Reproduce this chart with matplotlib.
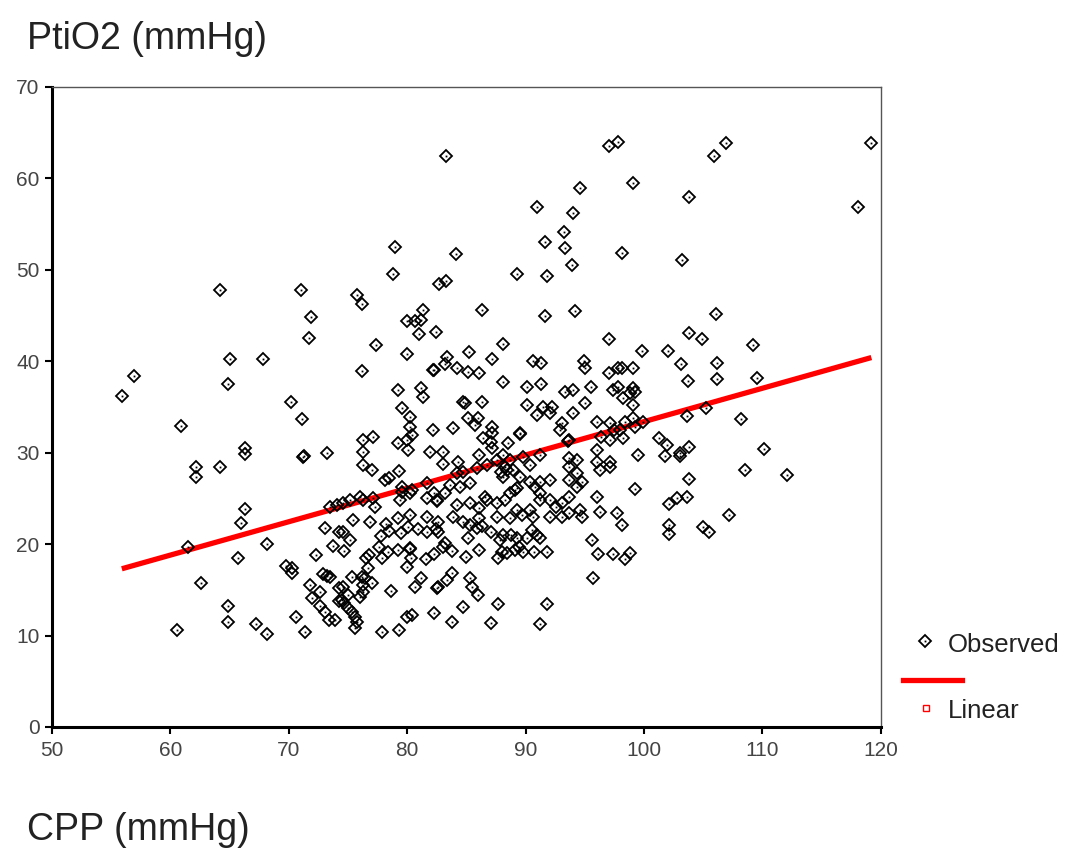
import numpy as np
import matplotlib
matplotlib.use("Agg")
import matplotlib.pyplot as plt
from matplotlib.lines import Line2D

# CPP (x) and PtiO2 (y)
cpp = [
    55.9, 56.9, 60.9, 60.6, 61.5, 62.2, 62.2, 62.6, 64.2, 64.2, 65.0, 64.9, 64.9, 64.9, 65.7, 66.0, 66.3, 66.3, 66.3, 67.8, 67.2, 68.2, 68.2, 69.8,
    70.2, 71.1, 71.0, 71.9, 71.7, 71.3, 71.2, 73.2, 70.3, 70.3, 70.6, 71.4, 72.3, 72.9, 73.2, 71.8, 72.6, 72.0, 72.6, 73.1, 73.4, 73.9, 73.1, 73.7,
    74.2, 74.2, 74.2, 74.6, 75.2, 74.7, 73.5, 74.6, 75.0, 74.5, 74.7, 75.0, 75.3, 75.6, 75.8, 75.6, 73.5, 74.1, 74.6,
    75.8, 76.2, 77.4, 76.2, 75.3, 76.2, 76.4, 76.7, 77.0, 76.3, 76.0, 76.3, 77.6, 76.5, 76.8, 77.9, 78.4, 79.2, 78.5, 79.5, 78.6, 77.9, 79.3,
    79.0, 78.8, 79.2, 79.6, 76.3, 77.1, 76.3, 76.3, 77.0, 78.1, 78.5, 79.2, 79.3, 75.2, 76.0, 76.3, 77.1, 77.3, 76.9, 79.4, 79.6, 79.6, 79.2,
    78.2, 75.4, 77.8,
    80.2, 80.2, 80.3, 80.0, 80.1, 80.9, 81.7, 82.4, 82.6, 81.6, 82.3, 83.0, 83.2, 83.8, 80.0, 80.4, 81.2, 80.7, 83.8, 83.4, 82.6, 82.5, 82.3,
    83.8, 84.7, 83.3, 84.1, 82.7, 83.3, 81.3, 80.0, 80.7, 81.2, 81.0, 82.4, 80.0, 82.3, 82.2, 83.2, 83.4, 84.2, 81.2, 81.3, 84.7, 80.2, 80.2,
    80.4, 80.0, 80.1, 82.2, 83.9, 81.9, 83.0, 83.0, 84.3, 84.2, 84.7, 83.6, 84.5, 81.7, 80.4, 80.2, 81.7, 82.5, 82.5, 82.3, 83.2, 84.2, 80.2,
    81.7, 82.6, 83.9, 84.7, 84.9,
    85.1, 85.0, 86.1, 85.3, 85.9, 86.3, 87.1, 87.8, 88.1, 88.8, 89.3, 87.7, 88.0, 88.4, 89.1, 89.4, 89.8, 87.7, 87.1, 85.3, 85.5, 86.0, 89.3,
    86.3, 85.2, 88.1, 87.2, 85.1, 86.1, 88.1, 86.3, 85.1, 86.0, 85.7, 87.2, 87.2, 86.4, 87.1, 86.1, 87.2, 88.1, 88.5, 89.5, 89.5, 88.7, 88.3,
    87.9, 88.1, 88.4, 88.9, 89.8, 89.5, 89.3, 85.9, 86.7, 87.6, 85.3, 85.3, 86.6, 86.7, 86.1, 87.6, 88.3, 88.7, 89.1, 89.3, 86.1, 87.6, 88.7,
    89.7,
    90.1, 90.5, 91.0, 91.2, 90.7, 91.8, 91.8, 91.2, 91.8, 93.9, 91.6, 94.2, 90.6, 91.3, 94.9, 95.0, 90.1, 91.3, 93.3, 94.0, 94.6, 91.0, 94.0,
    93.2, 91.6, 93.3, 90.1, 91.5, 92.2, 91.0, 92.1, 93.1, 94.0, 92.9, 95.0, 93.7, 93.6, 93.7, 94.3, 93.7, 94.3, 93.7, 94.3, 94.8, 93.7, 93.1,
    93.7, 94.6, 93.1, 94.8, 90.4, 91.2, 90.4, 90.8, 91.2, 92.1, 91.2, 90.4, 90.6, 91.2, 92.1, 92.6, 92.1, 95.5,
    95.6, 96.1, 97.4, 95.7, 97.0, 97.8, 98.1, 99.1, 97.0, 97.0, 97.8, 97.8, 99.8, 98.1, 99.1, 99.1, 99.2, 98.2, 98.8, 99.1, 97.1, 98.0, 98.4,
    99.1, 99.2, 99.9, 98.2, 97.1, 97.5, 96.4, 96.0, 96.0, 96.0, 96.3, 97.1, 97.1, 99.5, 99.2, 96.0, 96.3, 97.7, 98.1, 98.4, 98.8, 97.4,
    106.9, 105.9, 119.2, 103.8, 118.1, 103.2, 106.1, 103.8, 104.9, 109.2, 102.0, 103.1, 106.2, 103.7, 106.2, 109.5, 103.6, 105.2, 108.2,
    101.3, 101.9, 101.8, 103.0, 103.0, 103.8, 110.1, 108.5, 112.1, 103.8, 102.1, 102.8, 103.6, 107.2, 102.1, 102.1, 105.0, 105.5,
]
ptio2 = [
    36.2, 38.4, 32.9, 10.6, 19.7, 28.4, 27.3, 15.7, 47.8, 28.4, 40.2, 37.5, 13.2, 11.5, 18.5, 22.3, 23.8, 30.5, 29.9, 40.3, 11.3, 20.0, 10.2, 17.6,
    35.6, 33.7, 47.8, 44.8, 42.6, 29.6, 29.5, 30.0, 17.4, 16.8, 12.0, 10.4, 18.8, 16.7, 16.5, 15.5, 14.8, 14.1, 13.2, 12.6, 11.7, 11.7, 21.8, 19.8,
    21.3, 15.2, 13.8, 21.3, 20.4, 19.2, 16.4, 15.3, 14.4, 13.9, 13.6, 13.0, 12.6, 12.0, 11.5, 10.8, 24.1, 24.3, 24.5,
    47.2, 46.3, 41.8, 38.9, 16.4, 16.4, 16.3, 17.4, 15.7, 15.5, 14.2, 14.8, 19.7, 18.5, 18.8, 18.5, 19.1, 19.4, 21.4, 21.2, 14.9, 10.4, 10.6,
    52.5, 49.5, 36.9, 34.9, 31.4, 31.7, 30.1, 28.7, 28.1, 27.0, 27.2, 31.1, 28.0, 24.8, 25.2, 24.8, 25.0, 24.1, 22.4, 24.8, 25.7, 26.2, 22.9,
    22.2, 22.6, 20.9,
    19.6, 19.5, 18.5, 17.5, 21.9, 21.7, 21.3, 21.7, 21.3, 18.4, 18.9, 19.7, 20.1, 19.2, 12.0, 12.2, 16.3, 15.3, 16.8, 16.1, 15.3, 15.2, 12.5,
    11.5, 13.1, 62.5, 51.7, 48.5, 48.8, 45.6, 44.4, 44.4, 44.5, 43.0, 43.2, 40.8, 39.0, 39.1, 39.7, 40.5, 39.3, 37.1, 36.1, 35.5, 33.9, 32.8,
    31.9, 31.4, 30.3, 32.5, 32.7, 30.1, 30.1, 28.8, 29.0, 27.8, 27.9, 26.5, 26.2, 26.7, 25.9, 25.6, 25.0, 24.8, 24.7, 25.6, 25.6, 24.3, 23.2,
    23.0, 22.4, 23.0, 22.4, 35.4,
    20.7, 18.6, 19.4, 22.1, 21.8, 22.0, 21.3, 20.5, 21.0, 21.0, 20.7, 18.5, 19.1, 19.0, 19.4, 19.7, 19.1, 13.5, 11.4, 16.3, 15.3, 14.4, 49.5,
    45.6, 41.0, 41.9, 40.2, 38.8, 38.7, 37.7, 35.5, 33.8, 33.8, 33.0, 32.8, 32.2, 31.6, 31.2, 29.8, 30.5, 29.8, 31.1, 32.2, 32.1, 29.2, 28.4,
    27.9, 27.3, 28.1, 28.1, 29.5, 27.3, 26.1, 28.3, 28.7, 29.2, 26.7, 24.5, 25.2, 24.8, 24.0, 24.5, 24.8, 25.6, 25.9, 23.7, 22.9, 23.0, 22.9,
    23.2,
    20.7, 21.5, 21.0, 20.7, 19.1, 19.1, 13.5, 11.3, 49.3, 50.5, 45.0, 45.5, 40.0, 39.8, 40.0, 39.3, 37.2, 37.5, 36.6, 36.9, 59.0, 56.9, 56.2,
    54.1, 53.0, 52.4, 35.2, 35.0, 35.0, 34.1, 34.3, 33.2, 34.3, 32.5, 35.4, 31.4, 31.3, 29.4, 29.2, 28.4, 27.8, 27.0, 26.2, 26.8, 25.2, 24.5,
    23.4, 23.7, 23.0, 23.0, 28.7, 29.8, 26.8, 26.2, 26.8, 27.0, 25.6, 23.7, 23.0, 24.8, 24.8, 24.1, 23.0, 37.2,
    20.4, 18.9, 18.9, 16.3, 63.5, 64.0, 51.8, 59.5, 42.4, 38.7, 39.3, 37.2, 41.1, 39.3, 39.3, 37.1, 36.6, 36.0, 36.5, 35.2, 33.2, 32.5, 33.4,
    33.8, 32.8, 33.4, 31.6, 31.4, 32.5, 31.7, 33.4, 30.3, 29.0, 28.1, 28.4, 29.0, 29.7, 26.0, 25.2, 23.5, 23.4, 22.1, 18.4, 19.0, 36.9,
    63.9, 62.5, 63.9, 58.0, 56.9, 51.1, 45.2, 43.1, 42.4, 41.8, 41.1, 39.7, 39.8, 37.8, 38.1, 38.2, 34.0, 34.9, 33.7,
    31.6, 30.8, 29.6, 29.6, 30.0, 30.6, 30.4, 28.1, 27.6, 27.1, 24.4, 25.0, 25.2, 23.2, 22.1, 21.1, 21.9, 21.3,
]

# linear fit
fit_slope = 0.365
fit_intercept = -3.1

x_ticks = [50, 60, 70, 80, 90, 100, 110, 120]
y_ticks = [0, 10, 20, 30, 40, 50, 60, 70]

plt.rcParams['font.family'] = ['Liberation Sans', 'DejaVu Sans']

fig = plt.figure(figsize=(10.69, 8.57), dpi=100)
ax = fig.add_axes([0.0486, 0.1517, 0.7754, 0.7468])

ax.plot(cpp, ptio2, linestyle='none', marker='D', ms=6.6, mfc='none',
        mec='black', mew=1.3, zorder=3)
ax.plot(cpp, ptio2, linestyle='none', marker='s', ms=1.3, mfc='black',
        mec='black', mew=0, zorder=3)

xs = np.array([min(cpp), max(cpp)])
ax.plot(xs, fit_slope * xs + fit_intercept, color='#ff0000', lw=3.8,
        solid_capstyle='butt', zorder=2)

ax.set_xlim(50, 120)
ax.set_ylim(0, 70)
ax.set_xticks(x_ticks)
ax.set_yticks(y_ticks)
ax.tick_params(direction='out', length=5, width=1.5, labelsize=15,
               labelcolor='#444444', color='black')
ax.tick_params(axis='x', pad=5)
ax.tick_params(axis='y', pad=4)

for s in ['left', 'bottom']:
    ax.spines[s].set_linewidth(2.2)
    ax.spines[s].set_color('black')
for s in ['top', 'right']:
    ax.spines[s].set_linewidth(1.0)
    ax.spines[s].set_color('#555555')

fig.text(0.025, 0.955, 'PtiO2 (mmHg)', fontsize=27, color='#222222', va='center')
fig.text(0.025, 0.032, 'CPP (mmHg)', fontsize=27, color='#222222', va='center')

# legend drawn like the original
fig.add_artist(Line2D([0.865], [0.252], marker='D', ms=6.6, mfc='none',
                      mec='black', mew=1.3, transform=fig.transFigure))
fig.add_artist(Line2D([0.865], [0.252], marker='s', ms=1.3, mfc='black',
                      mec='black', mew=0, transform=fig.transFigure))
fig.text(0.887, 0.247, 'Observed', fontsize=18.5, color='#222222', va='center')
fig.add_artist(Line2D([0.845, 0.900], [0.207, 0.207], color='#ff0000', lw=3.8,
                      transform=fig.transFigure))
fig.add_artist(Line2D([0.866], [0.174], marker='s', ms=4, mfc='none',
                      mec='#ff0000', mew=1.0, transform=fig.transFigure))
fig.text(0.887, 0.170, 'Linear', fontsize=18.5, color='#222222', va='center')

fig.savefig('out.png', dpi=100)
